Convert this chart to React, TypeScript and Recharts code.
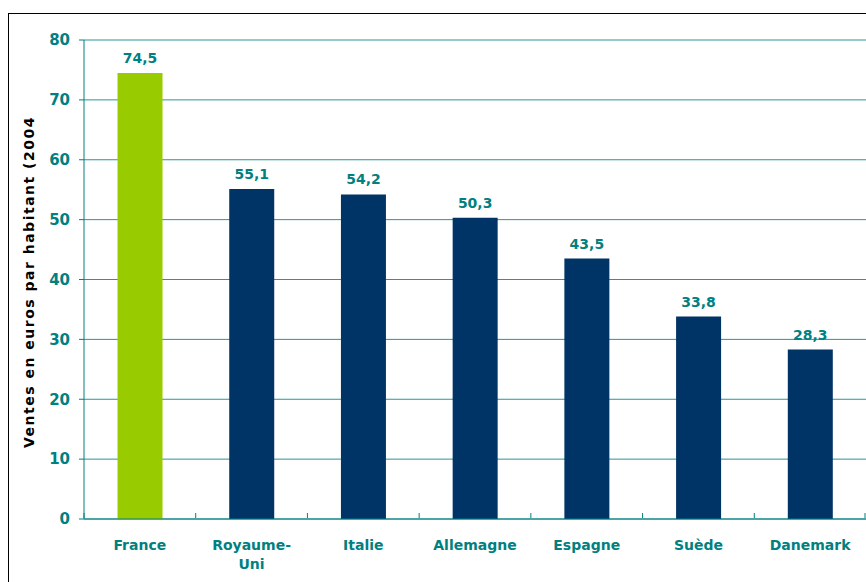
import { BarChart, Bar, XAxis, YAxis, CartesianGrid, Cell, LabelList } from 'recharts'

const countries = ['France', 'Royaume-Uni', 'Italie', 'Allemagne', 'Espagne', 'Suède', 'Danemark']
const sales = [74.5, 55.1, 54.2, 50.3, 43.5, 33.8, 28.3]
const yTicks = [0, 10, 20, 30, 40, 50, 60, 70, 80]
const yTitle = 'Ventes en euros par habitant (2004)'

const TEAL = '#008080'
const NAVY = '#003366'
const GREEN = '#99CC00'
const FONT = '"DejaVu Sans", Verdana, sans-serif'

const data = countries.map((name, i) => ({ name, value: sales[i] }))

const CountryTick = (props: any) => {
    const { x, y, payload, index } = props
    const half = payload.offset || 0
    const lines = payload.value === 'Royaume-Uni' ? ['Royaume-', 'Uni'] : [payload.value]
    return (
        <g>
            <line x1={x - half} x2={x - half} y1={y - 14} y2={y - 9} stroke={TEAL} />
            {index === countries.length - 1 && (
                <line x1={x + half - 1} x2={x + half - 1} y1={y - 14} y2={y - 9} stroke={TEAL} />
            )}
            <text x={x} y={y + 23} textAnchor="middle" fill={TEAL} fontWeight="bold" fontSize={14} fontFamily={FONT}>
                {lines.map((l, i) => (
                    <tspan key={i} x={x} dy={i === 0 ? 0 : 19}>{l}</tspan>
                ))}
            </text>
        </g>
    )
}

const YTitle = () => (
    <g>
        <defs>
            <clipPath id="ytitle-clip">
                <rect x={0} y={101} width={60} height={460} />
            </clipPath>
        </defs>
        <g clipPath="url(#ytitle-clip)">
            <text
                x={0}
                y={0}
                transform="translate(25,434) rotate(-90)"
                textAnchor="start"
                fill="#000"
                fontWeight="bold"
                fontSize={14}
                letterSpacing={1.5}
                fontFamily={FONT}
            >
                {yTitle}
            </text>
        </g>
    </g>
)

export default function App() {
    return (
        <div style={{ position: 'fixed', top: 13, left: 8, borderTop: '1px solid #000', borderLeft: '1px solid #000', width: 857, height: 568, overflow: 'hidden', background: '#fff' }}>
            <BarChart width={857} height={568} data={data} margin={{ top: 26, right: 0, bottom: 0, left: 0 }} barCategoryGap="30%">
                <CartesianGrid vertical={false} stroke="#2a9595" />
                <XAxis
                    dataKey="name"
                    height={63}
                    axisLine={{ stroke: TEAL }}
                    tickLine={false}
                    tick={<CountryTick />}
                    interval={0}
                />
                <YAxis
                    width={75}
                    domain={[0, 80]}
                    ticks={yTicks}
                    axisLine={{ stroke: TEAL }}
                    tickLine={{ stroke: TEAL }}
                    tickSize={5}
                    tickMargin={9}
                    tick={{ fill: TEAL, fontWeight: 'bold', fontSize: 15, fontFamily: FONT }}
                    label={<YTitle />}
                />
                <Bar dataKey="value" isAnimationActive={false}>
                    {data.map((_, i) => (
                        <Cell key={`cell-${i}`} fill={i === 0 ? GREEN : NAVY} />
                    ))}
                    <LabelList
                        dataKey="value"
                        position="top"
                        offset={10}
                        formatter={(v: any) => String(v).replace('.', ',')}
                        style={{ fill: TEAL, fontWeight: 'bold', fontSize: 14, fontFamily: FONT }}
                    />
                </Bar>
            </BarChart>
        </div>
    )
}
